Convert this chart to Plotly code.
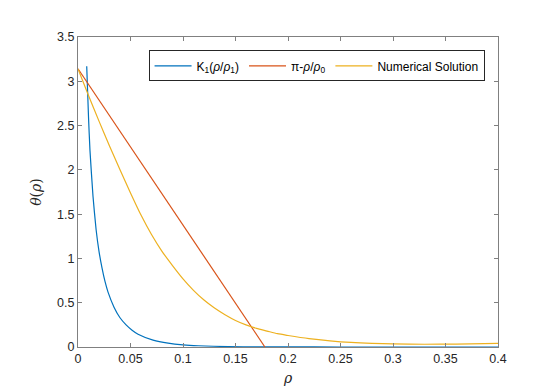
import plotly.graph_objects as go

# values
rho_k1 = [0.0083, 0.0100, 0.0114, 0.0143, 0.0172, 0.0200, 0.0229, 0.0257, 0.0286,
          0.0343, 0.0400, 0.0458, 0.0515, 0.0572, 0.0715, 0.0858, 0.1000, 0.1144,
          0.1430, 0.1716, 0.2000, 0.2500, 0.3000, 0.3500, 0.4000]
theta_k1 = [3.17, 2.60, 2.22, 1.70, 1.33, 1.08, 0.89, 0.74, 0.62,
            0.45, 0.33, 0.25, 0.19, 0.145, 0.078, 0.043, 0.024, 0.014,
            0.0045, 0.0015, 0.0006, 0.0001, 0.0, 0.0, 0.0]

rho_lin = [0.0, 0.178]
theta_lin = [3.1416, 0.0]

rho_num = [0.0, 0.01, 0.02, 0.03, 0.04, 0.05, 0.06, 0.07, 0.08, 0.09, 0.10,
           0.11, 0.12, 0.13, 0.14, 0.15, 0.16, 0.17, 0.18, 0.19, 0.20,
           0.22, 0.24, 0.26, 0.28, 0.30, 0.33, 0.36, 0.40]
theta_num = [3.14, 2.84, 2.55, 2.27, 2.00, 1.74, 1.49, 1.27, 1.08, 0.92, 0.77,
             0.64, 0.53, 0.44, 0.365, 0.30, 0.25, 0.21, 0.18, 0.15, 0.13,
             0.095, 0.07, 0.052, 0.041, 0.035, 0.031, 0.033, 0.042]

x_ticks = [0, 0.05, 0.1, 0.15, 0.2, 0.25, 0.3, 0.35, 0.4]
x_labels = ["0", "0.05", "0.1", "0.15", "0.2", "0.25", "0.3", "0.35", "0.4"]
y_ticks = [0, 0.5, 1, 1.5, 2, 2.5, 3, 3.5]
y_labels = ["0", "0.5", "1", "1.5", "2", "2.5", "3", "3.5"]

font = "Liberation Sans, Arial, sans-serif"
txt = "#262626"
axis_col = "#808080"

fig = go.Figure()
fig.add_trace(go.Scatter(x=rho_k1, y=theta_k1, mode="lines",
                         line=dict(color="#0072BD", width=1.2, shape="spline", smoothing=0.5),
                         name="K<sub>1</sub>(<i>ρ</i>/<i>ρ</i><sub>1</sub>)"))
fig.add_trace(go.Scatter(x=rho_lin, y=theta_lin, mode="lines",
                         line=dict(color="#D95319", width=1.2),
                         name="π-<i>ρ</i>/<i>ρ</i><sub>0</sub>"))
fig.add_trace(go.Scatter(x=rho_num, y=theta_num, mode="lines",
                         line=dict(color="#EDB120", width=1.2, shape="spline", smoothing=0.7),
                         name="Numerical Solution"))

axis_style = dict(showline=True, linecolor=axis_col, linewidth=1, mirror="ticks",
                  ticks="inside", ticklen=4, tickcolor=axis_col, showgrid=False,
                  zeroline=False, tickfont=dict(family=font, size=12.5, color=txt))

fig.update_xaxes(range=[0, 0.4], tickvals=x_ticks, ticktext=x_labels,
                 title=dict(text="<i>ρ</i>", font=dict(family="DejaVu Serif, serif", size=14, color=txt),
                            standoff=8), **axis_style)
fig.update_yaxes(range=[0, 3.5], tickvals=y_ticks, ticktext=y_labels,
                 title=dict(text="<i>θ</i>(<i>ρ</i>)", font=dict(family="DejaVu Serif, serif", size=14, color=txt),
                            standoff=12), **axis_style)

fig.update_layout(
    width=541, height=388,
    margin=dict(l=70, r=51, t=29, b=43),
    paper_bgcolor="white", plot_bgcolor="white",
    showlegend=True,
    legend=dict(orientation="h", x=0.968, xanchor="right", y=0.957, yanchor="top",
                bgcolor="white", bordercolor="#262626", borderwidth=1,
                itemwidth=37,
                font=dict(family=font, size=12, color="#000000"),
                tracegroupgap=0),
)

fig.write_html("out.html")
